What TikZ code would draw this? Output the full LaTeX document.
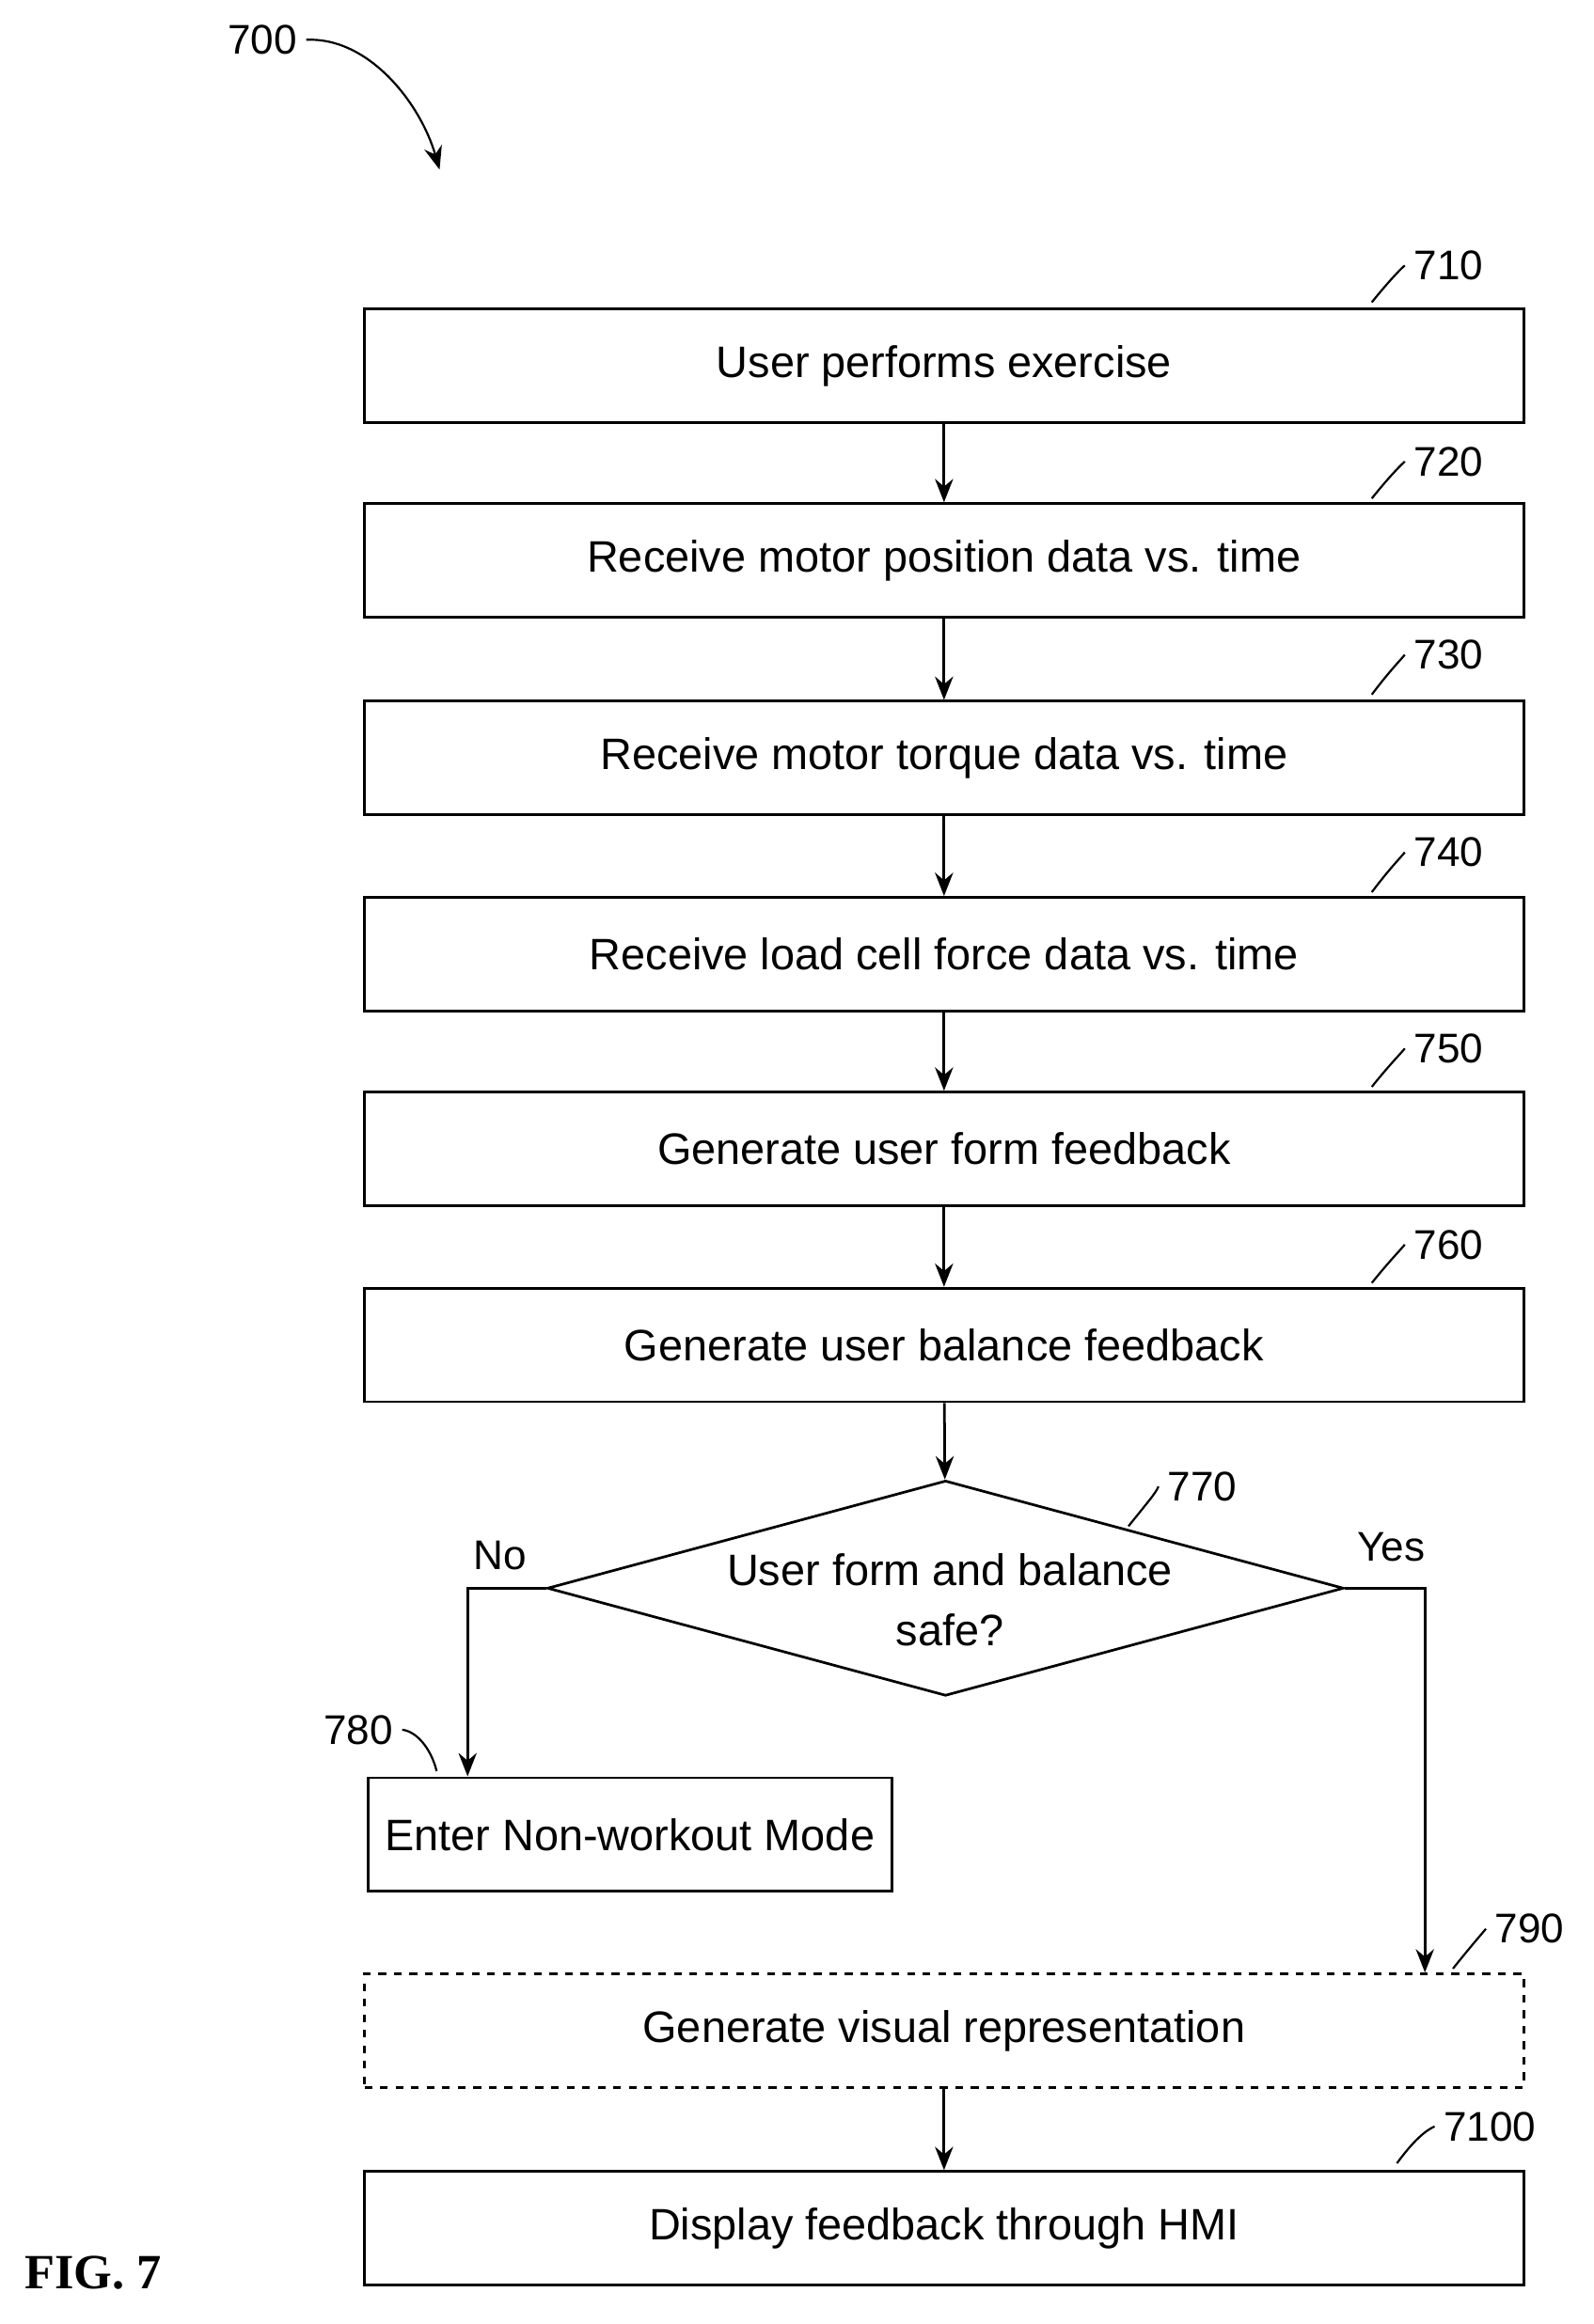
\documentclass[tikz,border=0pt]{standalone}
\usepackage{fontspec}
\setmainfont{Liberation Sans}
\newfontfamily\figfont{Liberation Serif}
\usetikzlibrary{shapes.geometric,arrows.meta}
\begin{document}
\begin{tikzpicture}[x=0.02cm,y=-0.02cm,
  box/.style={draw,line width=1pt,minimum height=1.54cm,inner sep=0pt,font=\fontsize{17}{20}\selectfont},
  lbl/.style={font=\fontsize{16}{19}\selectfont},
  arr/.style={line width=1pt,-{Stealth[length=9pt,width=7pt]}},
  lead/.style={line width=0.8pt}]
\useasboundingbox (0,0) rectangle (1080,1576);
\node[box,minimum width=15.72cm] (b710) at (640,248) {User performs exercise};
\node[box,minimum width=15.72cm] (b720) at (640,380) {Receive motor position data vs. time};
\node[box,minimum width=15.72cm] (b730) at (640,514) {Receive motor torque data vs. time};
\node[box,minimum width=15.72cm] (b740) at (640,647) {Receive load cell force data vs. time};
\node[box,minimum width=15.72cm] (b750) at (640,779) {Generate user form feedback};
\node[box,minimum width=15.72cm] (b760) at (640,912) {Generate user balance feedback};
\node[draw,line width=1pt,diamond,aspect=3.7,minimum width=10.8cm,minimum height=2.92cm,inner sep=0pt] (d770) at (641,1077) {};
\node[align=center,font=\fontsize{17}{23}\selectfont] (t770) at (644,1085) {User form and balance\\safe?};
\node[box,minimum width=7.1cm] (b780) at (427,1244) {Enter Non-workout Mode};
\node[box,minimum width=15.72cm,dashed] (b790) at (640,1377) {Generate visual representation};
\node[box,minimum width=15.72cm] (b7100) at (640,1511) {Display feedback through HMI};
\draw[arr] (b710) -- (b720);
\draw[arr] (b720) -- (b730);
\draw[arr] (b730) -- (b740);
\draw[arr] (b740) -- (b750);
\draw[arr] (b750) -- (b760);
\draw[arr] (b760) -- (d770);
\draw[arr] (b790) -- (b7100);
\coordinate (nc) at (317,1077);
\coordinate (yc) at (966,1077);
\draw[arr] (d770.west) -- (nc) -- (nc |- b780.north);
\draw[arr] (d770.east) -- (yc) -- (yc |- b790.north);
\node[lbl] (no) at (339,1055) {No};
\node[lbl] (yes) at (943,1049) {Yes};
\node[lbl] (l710) at (982,180) {710};
\draw[lead] (930,205) .. controls (942,190) and (950,182) .. (l710.west);
\node[lbl] (l720) at (982,313) {720};
\draw[lead] (930,338) .. controls (942,323) and (950,315) .. (l720.west);
\node[lbl] (l730) at (982,444) {730};
\draw[lead] (930,471) .. controls (942,455) and (950,447) .. (l730.west);
\node[lbl] (l740) at (982,578) {740};
\draw[lead] (930,605) .. controls (942,589) and (950,581) .. (l740.west);
\node[lbl] (l750) at (982,711) {750};
\draw[lead] (930,737) .. controls (942,722) and (950,714) .. (l750.west);
\node[lbl] (l760) at (982,844) {760};
\draw[lead] (930,870) .. controls (942,855) and (950,847) .. (l760.west);
\node[lbl] (l770) at (815,1008) {770};
\draw[lead] (765,1035) .. controls (777,1020) and (784,1012) .. (l770.west);
\node[lbl] (l780) at (243,1173) {780};
\draw[lead] (l780.east) .. controls (282,1174) and (292,1185) .. (296,1201);
\node[lbl] (l790) at (1037,1308) {790};
\draw[lead] (985,1335) .. controls (997,1320) and (1004,1312) .. (l790.west);
\node[lbl] (l7100) at (1010,1442) {7100};
\draw[lead] (947,1467) .. controls (958,1452) and (966,1445) .. (l7100.west);
\node[lbl] (l700) at (178,27) {700};
\draw[line width=0.8pt,-{Stealth[length=9pt,width=7pt]}] (l700.east) .. controls (250,25) and (285,70) .. (298,115);
\node[font=\figfont\bfseries\fontsize{19}{22}\selectfont] (fig) at (63,1541) {FIG. 7};
\end{tikzpicture}
\end{document}
